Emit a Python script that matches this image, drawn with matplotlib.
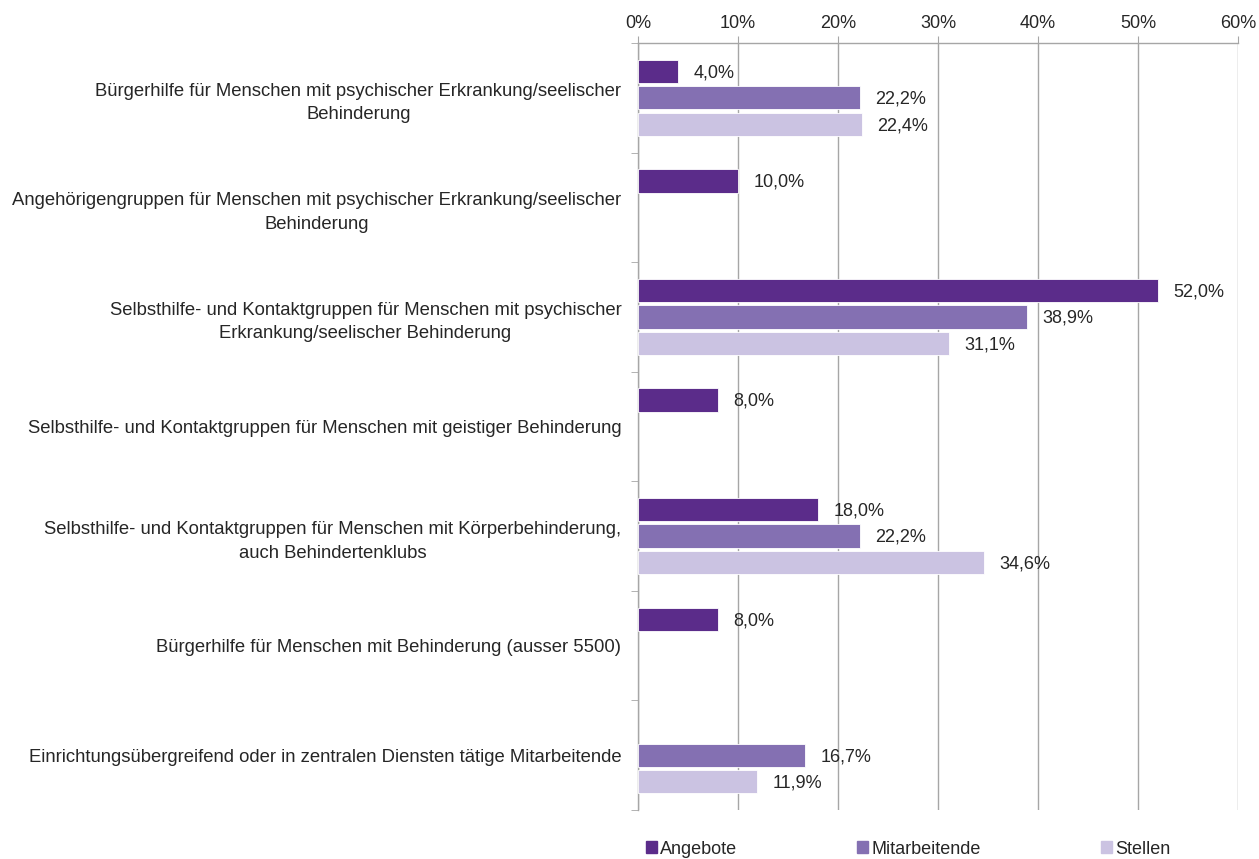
import matplotlib
matplotlib.use("Agg")
import matplotlib.pyplot as plt
import matplotlib.patches as mpatches
import matplotlib.ticker as mticker
import numpy as np

plt.rcParams['font.family'] = ['Liberation Sans', 'DejaVu Sans']

categories = [
    "Bürgerhilfe für Menschen mit psychischer Erkrankung/seelischer\nBehinderung",
    "Angehörigengruppen für Menschen mit psychischer Erkrankung/seelischer\nBehinderung",
    "Selbsthilfe- und Kontaktgruppen für Menschen mit psychischer\nErkrankung/seelischer Behinderung",
    "Selbsthilfe- und Kontaktgruppen für Menschen mit geistiger Behinderung",
    "Selbsthilfe- und Kontaktgruppen für Menschen mit Körperbehinderung,\nauch Behindertenklubs",
    "Bürgerhilfe für Menschen mit Behinderung (ausser 5500)",
    "Einrichtungsübergreifend oder in zentralen Diensten tätige Mitarbeitende",
]
angebote = [4.0, 10.0, 52.0, 8.0, 18.0, 8.0, np.nan]
mitarbeitende = [22.2, np.nan, 38.9, np.nan, 22.2, np.nan, 16.7]
stellen = [22.4, np.nan, 31.1, np.nan, 34.6, np.nan, 11.9]
series_names = ["Angebote", "Mitarbeitende", "Stellen"]
colors = ["#5B2C8A", "#8470B2", "#CBC3E2"]

text_col = "#262626"
grid_col = "#A6A6A6"
fs = 13
fs_cat = 13.3

fig = plt.figure(figsize=(12.59, 8.59), dpi=100)
ax = fig.add_axes([638 / 1259, 1 - 810 / 859, 600 / 1259, 767 / 859])

y = np.arange(len(categories))
pitch = 0.241
height = 0.212
series = [angebote, mitarbeitende, stellen]
for i, (vals, col) in enumerate(zip(series, colors)):
    vals = np.array(vals, dtype=float)
    pos = y + (i - 1) * pitch
    ax.barh(pos, vals, height=height, color=col, edgecolor='white', linewidth=0.6, zorder=3)
    for p, v in zip(pos, vals):
        if np.isnan(v):
            continue
        ax.annotate(f"{v:.1f}%".replace(".", ","), xy=(v, p), xytext=(11, -1),
                    textcoords='offset points', ha='left', va='center',
                    fontsize=fs, color=text_col)

ax.set_xlim(0, 60)
ax.set_ylim(len(categories) - 0.5, -0.5)
ax.xaxis.set_major_locator(mticker.MultipleLocator(10))
ax.xaxis.set_major_formatter(mticker.FuncFormatter(lambda v, _: f"{v:.0f}%"))
ax.xaxis.tick_top()
ax.tick_params(axis='x', which='major', direction='out', length=5, color=grid_col,
               labelsize=fs, labelcolor=text_col, pad=3)
ax.grid(axis='x', color=grid_col, linewidth=1, zorder=0)

ax.set_yticks(y)
ax.set_yticklabels(categories, fontsize=fs_cat, color=text_col, linespacing=1.5,
                   multialignment='center')
ax.tick_params(axis='y', which='major', length=0, pad=12)
ax.set_yticks(np.arange(len(categories) + 1) - 0.5, minor=True)
ax.tick_params(axis='y', which='minor', length=5, color=grid_col, direction='out')

for side in ['right', 'bottom']:
    ax.spines[side].set_visible(False)
for side in ['left', 'top']:
    ax.spines[side].set_color(grid_col)
    ax.spines[side].set_linewidth(1)

handles = [mpatches.Patch(color=c, label=n) for c, n in zip(colors, series_names)]
fig.legend(handles=handles, loc='center left', bbox_to_anchor=(646 / 1259, 1 - 849 / 859),
           ncol=3, frameon=False, fontsize=fs, handlelength=0.6, handleheight=0.6,
           handletextpad=0.2, columnspacing=6.64, borderpad=0, borderaxespad=0,
           labelcolor=text_col)

fig.savefig("out.png", dpi=100)
